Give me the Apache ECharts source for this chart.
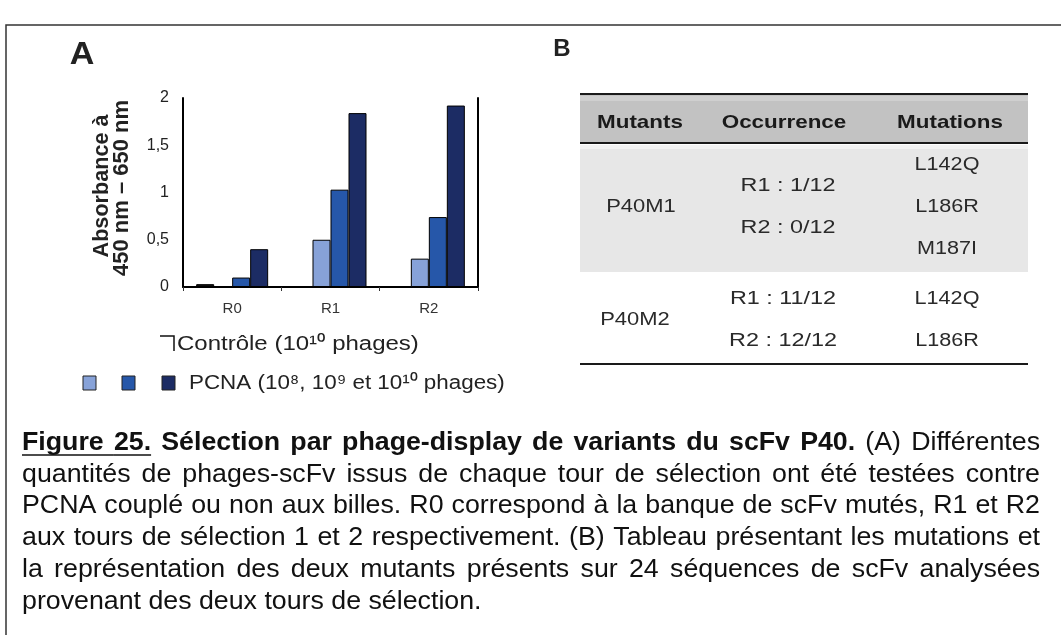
<!DOCTYPE html>
<html>
<head>
<meta charset="utf-8">
<script src="https://cdn.jsdelivr.net/npm/echarts@6/dist/echarts.min.js"></script>
<style>
  html, body { margin: 0; padding: 0; background: #fff; }
  #main { width: 1061px; height: 635px; }
</style>
</head>
<body>
<div id="main"></div>
<script>
// ---- Panel A: absorbance per selection round ----
const rounds = ['R0', 'R1', 'R2'];
const controle = [0.03, 0.01, 0.01];      // contrôle, billes seules
const pcna1e8 = [0.01, 0.50, 0.30];       // PCNA, 10^8 phages
const pcna1e9 = [0.10, 1.03, 0.74];       // PCNA, 10^9 phages
const pcna1e10 = [0.40, 1.84, 1.92];      // PCNA, 10^10 phages
const yMin = 0, yMax = 2, yStep = 0.5;

// ---- Panel B: mutants table ----
const tableHeader = ['Mutants', 'Occurrence', 'Mutations'];
const mutants = ['P40M1', 'P40M2'];
const occurrences = [['R1 : 1/12', 'R2 : 0/12'], ['R1 : 11/12', 'R2 : 12/12']];
const mutations = [['L142Q', 'L186R', 'M187I'], ['L142Q', 'L186R']];

// ---- Legend and caption texts ----
const legendControle = 'Contrôle (10¹⁰ phages)';
const legendPcna = 'PCNA (10⁸, 10⁹ et 10¹⁰ phages)';
const captionLines = [
  'Figure 25. Sélection par phage-display de variants du scFv P40. (A) Différentes',
  'quantités de phages-scFv issus de chaque tour de sélection ont été testées contre',
  'PCNA couplé ou non aux billes. R0 correspond à la banque de scFv mutés, R1 et R2',
  'aux tours de sélection 1 et 2 respectivement. (B) Tableau présentant les mutations et',
  'la représentation des deux mutants présents sur 24 séquences de scFv analysées',
  'provenant des deux tours de sélection.'
];
const captionBoldWords = 10;   // "Figure 25. ... P40." is bold
const captionUnderlineWords = 2;

const FONT = '"Liberation Sans", Arial, sans-serif';
const colors = { light: '#87a2d8', mid: '#2657a9', dark: '#1c2c64', ctrl: '#111111', ink: '#222' };

const chart = echarts.init(document.getElementById('main'), null, { renderer: 'canvas' });

const measureCtx = document.createElement('canvas').getContext('2d');
function measure(text, weight, size) {
  measureCtx.font = weight + ' ' + size + 'px ' + FONT;
  return measureCtx.measureText(text).width;
}

const graphics = [];

// outer frame
graphics.push({
  type: 'rect', z: 0, silent: true,
  shape: { x: 6, y: 25, width: 1100, height: 700 },
  style: { fill: 'none', stroke: '#333', lineWidth: 1.5 }
});

function txt(text, x, y, opt) {
  opt = opt || {};
  return {
    type: 'text', x: x, y: y, z: 10, silent: true,
    rotation: opt.rotation || 0,
    scaleX: opt.scaleX || 1, scaleY: opt.scaleY || 1,
    style: {
      text: text, x: 0, y: 0,
      fill: opt.fill || colors.ink,
      font: (opt.weight || 'normal') + ' ' + (opt.size || 16) + 'px ' + FONT,
      textAlign: opt.align || 'center',
      textVerticalAlign: 'middle'
    }
  };
}

// panel letters
graphics.push(txt('A', 82, 55, { weight: 'bold', size: 31, scaleX: 1.1 }));
graphics.push(txt('B', 562, 49, { weight: 'bold', size: 24 }));

// y axis title (two rotated lines)
graphics.push(txt('Absorbance à', 102, 186, { weight: 'bold', size: 20, rotation: Math.PI / 2, scaleX: 1.08, scaleY: 1.1 }));
graphics.push(txt('450 nm – 650 nm', 122, 188, { weight: 'bold', size: 20, rotation: Math.PI / 2, scaleX: 1.1, scaleY: 1.1 }));

// legend
graphics.push({
  type: 'polyline', z: 10, silent: true,
  shape: { points: [[160, 336], [174, 336], [174, 351]] },
  style: { stroke: '#111', lineWidth: 1.5, fill: 'none' }
});
graphics.push(txt(legendControle, 177, 344, { size: 20, align: 'left', scaleX: 1.2 }));
[colors.light, colors.mid, colors.dark].forEach(function (c, i) {
  graphics.push({
    type: 'rect', z: 10, silent: true,
    shape: { x: [83, 122, 162][i], y: 376, width: 13, height: 14 },
    style: { fill: c, stroke: '#222', lineWidth: 1 }
  });
});
graphics.push(txt(legendPcna, 189, 383, { size: 20, align: 'left', scaleX: 1.12 }));

// table
const tX = 580, tW = 448;
const headTop = 94, headBot = 143, row1Bot = 272, tableBot = 364;
graphics.push({ type: 'rect', z: 1, silent: true, shape: { x: tX, y: headTop, width: tW, height: headBot - headTop }, style: { fill: '#c2c2c2' } });
graphics.push({ type: 'rect', z: 1, silent: true, shape: { x: tX, y: headTop + 2, width: tW, height: 5 }, style: { fill: '#cfcfcf' } });
graphics.push({ type: 'rect', z: 1, silent: true, shape: { x: tX, y: headBot + 2, width: tW, height: row1Bot - headBot - 2 }, style: { fill: '#e7e7e7' } });
graphics.push({ type: 'rect', z: 1, silent: true, shape: { x: tX, y: headBot + 2, width: tW, height: 4 }, style: { fill: '#f2f2f2' } });
[headTop, headBot, tableBot].forEach(function (y) {
  graphics.push({ type: 'line', z: 5, silent: true, shape: { x1: tX, y1: y, x2: tX + tW, y2: y }, style: { stroke: '#1a1a1a', lineWidth: 2 } });
});
const colX = [640, 784, 950];
tableHeader.forEach(function (h, i) {
  graphics.push(txt(h, colX[i], 123, { weight: 'bold', size: 19, scaleX: 1.18, fill: '#1a1a1a' }));
});
const rowSpans = [[headBot, row1Bot], [row1Bot, tableBot]];
const lineGap = 42;
mutants.forEach(function (m, r) {
  const cy = (rowSpans[r][0] + rowSpans[r][1]) / 2 + (r === 0 ? 0 : 2);
  graphics.push(txt(m, colX[0] + (r === 0 ? 1 : -5), cy, { size: 18, fill: '#2a2a2a', scaleX: 1.22 }));
  occurrences[r].forEach(function (o, k) {
    const n = occurrences[r].length;
    graphics.push(txt(o, colX[1] + (r === 0 ? 4 : -1), cy + (k - (n - 1) / 2) * lineGap, { size: 18, fill: '#2a2a2a', scaleX: 1.3 }));
  });
  mutations[r].forEach(function (mu, k) {
    const n = mutations[r].length;
    graphics.push(txt(mu, colX[2] - 3, cy + (k - (n - 1) / 2) * lineGap, { size: 18, fill: '#2a2a2a', scaleX: 1.2 }));
  });
});

// caption, justified between left and right margins
const capLeft = 22, capRight = 1040, capTop = 443, capStep = 31.8, capSize = 25, capScale = 1.07;
captionLines.forEach(function (line, li) {
  const words = line.split(' ');
  const weights = words.map(function (w, wi) { return (li === 0 && wi < captionBoldWords) ? 'bold' : 'normal'; });
  const widths = words.map(function (w, wi) { return measure(w, weights[wi], capSize) * capScale; });
  const total = widths.reduce(function (a, b) { return a + b; }, 0);
  const last = li === captionLines.length - 1;
  const gap = last ? measure(' ', 'normal', capSize) * capScale : (capRight - capLeft - total) / (words.length - 1);
  let x = capLeft;
  const y = capTop + li * capStep;
  words.forEach(function (w, wi) {
    graphics.push(txt(w, x, y, { weight: weights[wi], size: capSize, align: 'left', fill: '#111', scaleX: capScale }));
    if (li === 0 && wi < captionUnderlineWords) {
      const x2 = x + widths[wi] + (wi < captionUnderlineWords - 1 ? gap : 0);
      graphics.push({ type: 'line', z: 10, silent: true, shape: { x1: x, y1: y + 12, x2: x2, y2: y + 12 }, style: { stroke: '#111', lineWidth: 1.5 } });
    }
    x += widths[wi] + gap;
  });
});

const barBase = { type: 'bar', barWidth: 18, barGap: '0%', emphasis: { disabled: true } };

chart.setOption({
  animation: false,
  backgroundColor: '#fff',
  grid: { left: 183, right: 583, top: 98, bottom: 348, containLabel: false },
  xAxis: {
    type: 'category', data: rounds,
    axisLine: { lineStyle: { color: '#000', width: 2 } },
    axisTick: { show: true, length: 4, lineStyle: { color: '#333' } },
    axisLabel: { color: '#333', fontSize: 15, fontFamily: FONT, margin: 14 }
  },
  yAxis: [{
    type: 'value', min: yMin, max: yMax, interval: yStep,
    axisLine: { show: true, lineStyle: { color: '#000', width: 2 } },
    axisTick: { show: false },
    splitLine: { show: false },
    axisLabel: {
      color: '#222', fontSize: 16, fontFamily: FONT, margin: 14,
      formatter: function (v) { return String(v).replace('.', ','); }
    }
  }, {
    type: 'value', min: yMin, max: yMax, interval: yStep, position: 'right',
    axisLine: { show: true, lineStyle: { color: '#000', width: 2 } },
    axisTick: { show: false }, axisLabel: { show: false }, splitLine: { show: false }
  }],
  series: [
    Object.assign({}, barBase, { name: 'Contrôle', data: controle, itemStyle: { color: colors.ctrl, borderColor: '#000', borderWidth: 1 } }),
    Object.assign({}, barBase, { name: 'PCNA 10^8', data: pcna1e8, itemStyle: { color: colors.light, borderColor: '#000', borderWidth: 1 } }),
    Object.assign({}, barBase, { name: 'PCNA 10^9', data: pcna1e9, itemStyle: { color: colors.mid, borderColor: '#000', borderWidth: 1 } }),
    Object.assign({}, barBase, { name: 'PCNA 10^10', data: pcna1e10, itemStyle: { color: colors.dark, borderColor: '#000', borderWidth: 1 } })
  ],
  graphic: graphics
});
</script>
</body>
</html>
